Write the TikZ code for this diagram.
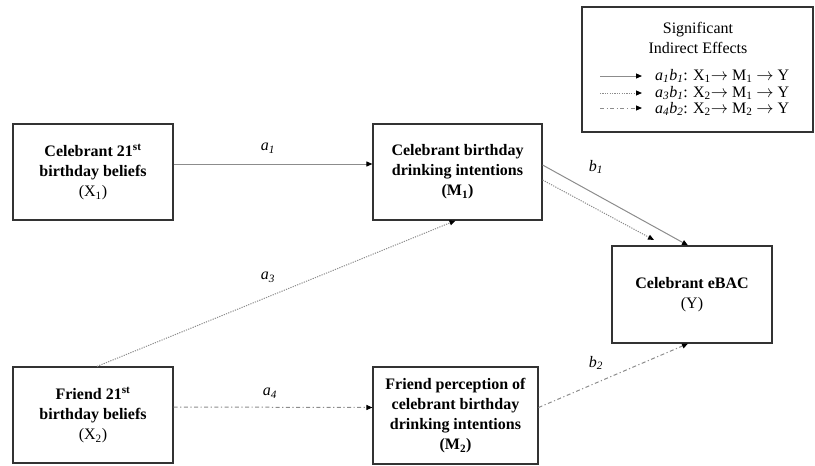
\documentclass[tikz,border=0pt]{standalone}
\usepackage{fontspec}
\setmainfont{Liberation Serif}
\usetikzlibrary{arrows.meta,calc}
\newcommand{\rar}{\ensuremath{\rightarrow}}
\tikzset{
  box/.style={draw=black!80, line width=1.2pt, rectangle, align=center,
    font=\fontsize{16}{20}\selectfont\bfseries, inner sep=2pt},
  conn/.style={draw=black!45, line width=1pt, -{Triangle[length=6pt,width=5pt,color=black]}},
  solidl/.style={conn},
  dotl/.style={conn, dash pattern=on 1.2pt off 1.2pt},
  dashdotl/.style={conn, dash pattern=on 4pt off 2.5pt on 1.2pt off 2.5pt},
  lbl/.style={font=\fontsize{16}{20}\selectfont\itshape, inner sep=0pt},
  legtxt/.style={font=\fontsize{16}{20}\selectfont, inner sep=0pt, anchor=west, align=left}
}
\begin{document}
\begin{tikzpicture}[x=1pt,y=-1pt]
\useasboundingbox (0,0) rectangle (815,466);
% boxes
\node[box, minimum width=160pt, minimum height=96pt] (X1) at (93,172)
  {Celebrant 21\textsuperscript{st}\\birthday beliefs\\\mdseries(X\textsubscript{1})};
\node[box, minimum width=169pt, minimum height=96pt] (M1) at (457.5,172)
  {Celebrant birthday\\drinking intentions\\(M\textsubscript{1})};
\node[box, minimum width=160pt, minimum height=96pt] (X2) at (93,415)
  {Friend 21\textsuperscript{st}\\birthday beliefs\\\mdseries(X\textsubscript{2})};
\node[box, minimum width=165pt, minimum height=97pt] (M2) at (455.5,415.5)
  {Friend perception of\\celebrant birthday\\drinking intentions\\(M\textsubscript{2})};
\node[box, minimum width=160pt, minimum height=97pt] (Y) at (692,294.5)
  {Celebrant eBAC\\\mdseries(Y)};
% legend
\node[draw=black!80, line width=1.2pt, minimum width=231pt, minimum height=125pt] (leg) at (697.5,69.5) {};
\node[font=\fontsize{16}{20}\selectfont, align=center, inner sep=0pt] (legt) at (698,38)
  {Significant\\Indirect Effects};
\coordinate (l1s) at (600,76); \coordinate (l1e) at (642,76);
\coordinate (l2s) at (600,93); \coordinate (l2e) at (642,93);
\coordinate (l3s) at (600,108); \coordinate (l3e) at (642,108);
\draw[solidl] (l1s) -- (l1e);
\draw[dotl] (l2s) -- (l2e);
\draw[dashdotl] (l3s) -- (l3e);
\node[legtxt] (lt1) at (655,76) {\textit{a\textsubscript{1}b\textsubscript{1}}: X\textsubscript{1}\rar{} M\textsubscript{1} \rar{} Y};
\node[legtxt] (lt2) at (655,93) {\textit{a\textsubscript{3}b\textsubscript{1}}: X\textsubscript{2}\rar{} M\textsubscript{1} \rar{} Y};
\node[legtxt] (lt3) at (655,109) {\textit{a\textsubscript{4}b\textsubscript{2}}: X\textsubscript{2}\rar{} M\textsubscript{2} \rar{} Y};
% connectors
\draw[solidl] ([yshift=8pt]X1.east) -- ([yshift=8pt]M1.west);
\draw[dotl] ([xshift=4pt]X2.north) -- ([xshift=-2pt]M1.south);
\draw[dashdotl] ([yshift=8pt]X2.east) -- ([yshift=8pt]M2.west);
\draw[solidl] ([yshift=7pt]M1.east) -- ([xshift=-4pt]Y.north);
\coordinate (dend) at (654,240);
\draw[dotl] ([yshift=-8pt]M1.east) -- (dend);
\draw[dashdotl] ([yshift=8pt]M2.east) -- ([xshift=-4pt]Y.south);
% labels
\node[lbl] (la1) at (268,148) {a\textsubscript{1}};
\node[lbl] (la3) at (268,277) {a\textsubscript{3}};
\node[lbl] (la4) at (270,393) {a\textsubscript{4}};
\node[lbl] (lb1) at (596,167) {b\textsubscript{1}};
\node[lbl] (lb2) at (596,363) {b\textsubscript{2}};
\end{tikzpicture}
\end{document}
